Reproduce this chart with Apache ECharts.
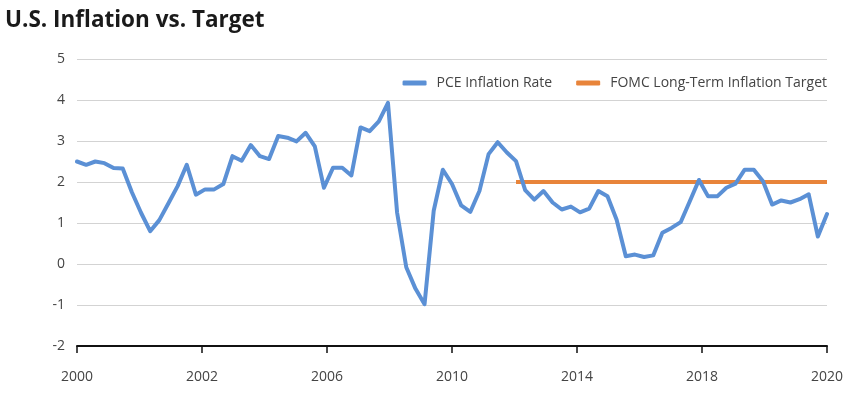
<!DOCTYPE html>
<html>
<head>
<meta charset="utf-8">
<script src="https://cdn.jsdelivr.net/npm/echarts@6/dist/echarts.min.js"></script>
<style>
  html, body { margin: 0; padding: 0; background: #fff; }
  #chart { width: 852px; height: 394px; }
</style>
</head>
<body>
<div id="chart"></div>
<script>
// Quarterly PCE inflation readings (percent)
const pce = [
  2.50, 2.42, 2.50, 2.46, 2.34, 2.33, 1.75, 1.25, 0.80, 1.07,
  1.48, 1.90, 2.42, 1.69, 1.82, 1.82, 1.95, 2.63, 2.52, 2.90,
  2.63, 2.56, 3.12, 3.08, 2.99, 3.20, 2.87, 1.86, 2.35, 2.35,
  2.16, 3.33, 3.24, 3.48, 3.93, 1.25, -0.08, -0.60, -0.98, 1.30,
  2.30, 1.95, 1.43, 1.27, 1.78, 2.68, 2.97, 2.72, 2.51, 1.80,
  1.57, 1.78, 1.50, 1.33, 1.40, 1.26, 1.35, 1.78, 1.65, 1.08,
  0.19, 0.23, 0.17, 0.21, 0.76, 0.88, 1.02, 1.53, 2.05, 1.65,
  1.65, 1.86, 1.96, 2.30, 2.30, 2.02, 1.45, 1.55, 1.50, 1.58,
  1.70, 0.67, 1.22
];
// FOMC long-term target (2%), present from early 2012 onward
const target = [
  null, null, null, null, null, null, null, null, null, null,
  null, null, null, null, null, null, null, null, null, null,
  null, null, null, null, null, null, null, null, null, null,
  null, null, null, null, null, null, null, null, null, null,
  null, null, null, null, null, null, null, null, 2, 2,
  2, 2, 2, 2, 2, 2, 2, 2, 2, 2,
  2, 2, 2, 2, 2, 2, 2, 2, 2, 2,
  2, 2, 2, 2, 2, 2, 2, 2, 2, 2,
  2, 2, 2
];
const categories = pce.map((_, i) => 'Q' + i);
const xTickLabels = ['2000', '2002', '2006', '2010', '2014', '2018', '2020'];
const seriesNames = ['PCE Inflation Rate', 'FOMC Long-Term Inflation Target'];

const FONT = 'Open Sans';
const chart = echarts.init(document.getElementById('chart'), null, { renderer: 'canvas' });
chart.setOption({
  animation: false,
  backgroundColor: '#ffffff',
  title: {
    text: 'U.S. Inflation vs. Target',
    left: 0, top: 4,
    textStyle: { fontFamily: FONT, fontWeight: 'bold', fontSize: 22.5, color: '#1a1a1a' }
  },
  legend: {
    right: 20, top: 71,
    itemWidth: 24, itemHeight: 5,
    itemGap: 24,
    icon: 'roundRect',
    textStyle: { fontFamily: FONT, fontSize: 14, color: '#444', padding: [0, 0, 0, 5] },
    data: seriesNames
  },
  grid: { left: 77, right: 25, top: 59, bottom: 48, containLabel: false },
  xAxis: [
    {
      type: 'category', data: categories, boundaryGap: false, show: false
    },
    {
      type: 'value', min: 0, max: xTickLabels.length - 1, interval: 1,
      position: 'bottom',
      axisLine: { show: true, onZero: false, lineStyle: { color: '#111', width: 2 } },
      axisTick: { show: true, length: 7, lineStyle: { color: '#111', width: 1.5 } },
      axisLabel: {
        margin: 24, fontFamily: FONT, fontSize: 14, color: '#444',
        formatter: v => xTickLabels[Math.round(v)] ?? ''
      },
      splitLine: { show: false }
    }
  ],
  yAxis: {
    type: 'value', min: -2, max: 5, interval: 1,
    axisLine: { show: false }, axisTick: { show: false },
    axisLabel: { margin: 12, fontFamily: FONT, fontSize: 14, color: '#444' },
    splitLine: { lineStyle: { color: '#d3d3d3', width: 1 } }
  },
  series: [
    {
      name: seriesNames[0], type: 'line', xAxisIndex: 0, data: pce,
      showSymbol: false, symbol: 'none',
      lineStyle: { color: '#5B90D5', width: 4, join: 'round', cap: 'round' },
      itemStyle: { color: '#5B90D5' }, z: 3
    },
    {
      name: seriesNames[1], type: 'line', xAxisIndex: 0, data: target,
      showSymbol: false, symbol: 'none', connectNulls: false,
      lineStyle: { color: '#E8843A', width: 4 },
      itemStyle: { color: '#E8843A' }, z: 2
    }
  ]
});
</script>
</body>
</html>
